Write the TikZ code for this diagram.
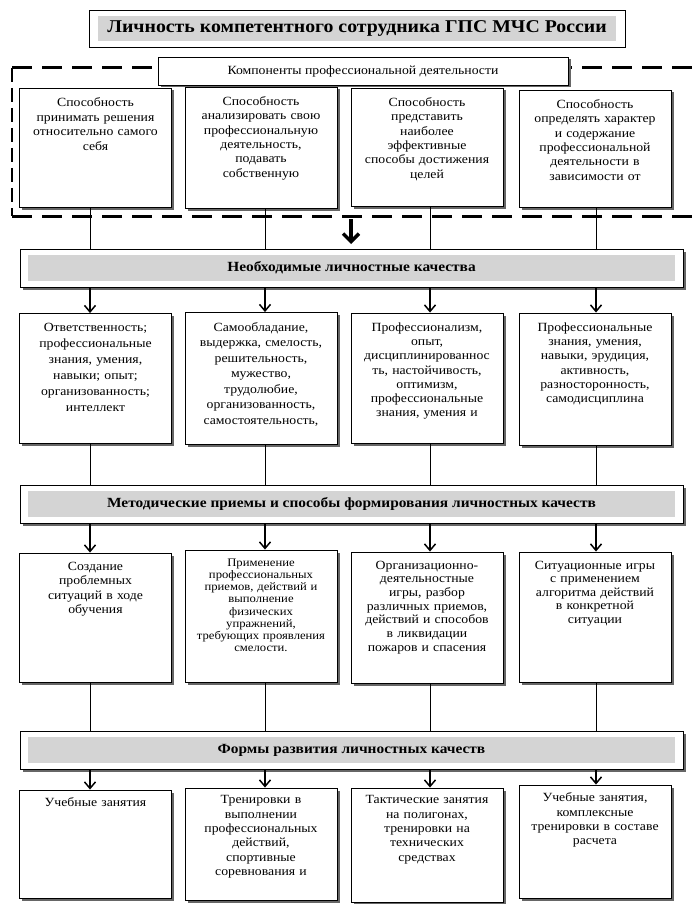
\documentclass[tikz,border=0pt]{standalone}
\usepackage{fontspec}
\setmainfont{Liberation Serif}[FakeStretch=1.1]
\usetikzlibrary{shapes,arrows.meta,positioning,calc,shadows}

\begin{document}
\begin{tikzpicture}[
  x=1pt, y=-1pt,
  cellbox/.style={draw, fill=white, line width=0.9pt, minimum width=152pt, inner sep=0pt,
    drop shadow={shadow xshift=2.5pt, shadow yshift=-2.5pt, fill=black!60, opacity=1}},
  celltext/.style={anchor=north, inner sep=0pt, text width=148pt, align=center, font=\fontsize{12.5}{14.5}\selectfont},
  bandbox/.style={draw, fill=white, line width=0.9pt, minimum width=663pt, minimum height=38pt,
    font=\bfseries\fontsize{14}{16}\selectfont,
    drop shadow={shadow xshift=2.5pt, shadow yshift=-2.5pt, fill=black!60, opacity=1},
    path picture={\fill[black!17] ([xshift=8pt,yshift=-6pt]path picture bounding box.north west) rectangle ([xshift=-8pt,yshift=6pt]path picture bounding box.south east);}},
  titlebox/.style={draw, fill=white, line width=0.9pt, minimum width=536pt, minimum height=37pt,
    font=\bfseries\fontsize{18}{20}\selectfont,
    path picture={\fill[black!17] ([xshift=9pt,yshift=-6pt]path picture bounding box.north west) rectangle ([xshift=-9pt,yshift=6pt]path picture bounding box.south east);}},
  conn/.style={line width=1pt},
  arrow/.style={line width=1.1pt, -{Straight Barb[length=6.5pt,width=11pt,line width=1.5pt]}},
  bigarrow/.style={line width=3.5pt, -{Straight Barb[length=8pt,width=16pt]}},
  dashline/.style={line width=3pt, dash pattern=on 20pt off 10pt},
  sidedash/.style={line width=1.3pt, dash pattern=on 14pt off 6pt}
]
  \useasboundingbox (0,0) rectangle (696,904);

  % Title
  \node[titlebox] (title) at (357,28.5) {Личность компетентного сотрудника ГПС МЧС России};

  % Components frame
  \coordinate (dtl) at (12,68);
  \coordinate (dtr) at (696,68);
  \coordinate (dbl) at (12,216);
  \coordinate (dbr) at (696,216);
  \draw[dashline] (dtl) -- (dtr);
  \draw[dashline] (dbl) -- (dbr);
  \draw[sidedash] (dtl) -- (dbl);
  \node[cellbox, minimum width=410pt, minimum height=28pt, font=\fontsize{12.5}{14}\selectfont] (comp) at (363,71) {Компоненты профессиональной деятельности};

  % column lines
  \coordinate (k1) at (90,0);
  \coordinate (k2) at (265,0);
  \coordinate (k3) at (430,0);
  \coordinate (k4) at (596,0);

  % Row 1: abilities
  \node[cellbox, minimum height=119pt] (s1) at (95.5,147.5) {};
  \node[cellbox, minimum height=121pt] (s2) at (261,147.5) {};
  \node[cellbox, minimum height=118pt] (s3) at (427,147) {};
  \node[cellbox, minimum height=117pt] (s4) at (595,148.5) {};
  \node[celltext, below=10pt of s1.north] {Способность\\принимать решения\\относительно самого\\себя};
  \node[celltext, below=10pt of s2.north, font=\fontsize{12.5}{14.3}\selectfont] {Способность\\анализировать свою\\профессиональную\\деятельность,\\подавать\\собственную};
  \node[celltext, below=10pt of s3.north, font=\fontsize{12.5}{14.3}\selectfont] {Способность\\представить\\наиболее\\эффективные\\способы достижения\\целей};
  \node[celltext, below=10pt of s4.north, font=\fontsize{12.5}{14.3}\selectfont] {Способность\\определять характер\\и содержание\\профессиональной\\деятельности в\\зависимости от};

  % Band 1
  \node[bandbox] (b1) at (351.5,268) {Необходимые личностные качества};
  \coordinate (ctop) at (351,219);
  \coordinate (cbot) at (351,244);
  \draw[bigarrow] (ctop) -- (cbot);
  \draw[conn] (s1.south -| k1) -- (b1.north -| k1);
  \draw[conn] (s2.south -| k2) -- (b1.north -| k2);
  \draw[conn] (s3.south -| k3) -- (b1.north -| k3);
  \draw[conn] (s4.south -| k4) -- (b1.north -| k4);

  % Row 2: qualities
  \node[cellbox, minimum height=130pt] (q1) at (95.5,378.5) {};
  \node[cellbox, minimum height=132pt] (q2) at (261,378.5) {};
  \node[cellbox, minimum height=130pt] (q3) at (427,378) {};
  \node[cellbox, minimum height=132pt] (q4) at (595,379) {};
  \node[celltext, below=10pt of q1.north, font=\fontsize{12.5}{16}\selectfont] {Ответственность;\\профессиональные\\знания, умения,\\навыки; опыт;\\организованность;\\интеллект};
  \node[celltext, below=10pt of q2.north, font=\fontsize{12.5}{15.5}\selectfont] {Самообладание,\\выдержка, смелость,\\решительность,\\мужество,\\трудолюбие,\\организованность,\\самостоятельность,};
  \node[celltext, below=10pt of q3.north, font=\fontsize{12.5}{14.2}\selectfont] {Профессионализм,\\опыт,\\дисциплинированнос\\ть, настойчивость,\\оптимизм,\\профессиональные\\знания, умения и};
  \node[celltext, below=10pt of q4.north, font=\fontsize{12.5}{14.2}\selectfont] {Профессиональные\\знания, умения,\\навыки, эрудиция,\\активность,\\разносторонность,\\самодисциплина};
  \draw[arrow] (b1.south -| k1) -- (q1.north -| k1);
  \draw[arrow] (b1.south -| k2) -- (q2.north -| k2);
  \draw[arrow] (b1.south -| k3) -- (q3.north -| k3);
  \draw[arrow] (b1.south -| k4) -- (q4.north -| k4);

  % Band 2
  \node[bandbox] (b2) at (351.5,504) {Методические приемы и способы формирования личностных качеств};
  \draw[conn] (q1.south -| k1) -- (b2.north -| k1);
  \draw[conn] (q2.south -| k2) -- (b2.north -| k2);
  \draw[conn] (q3.south -| k3) -- (b2.north -| k3);
  \draw[conn] (q4.south -| k4) -- (b2.north -| k4);

  % Row 3: methods
  \node[cellbox, minimum height=129pt] (m1) at (95.5,617.5) {};
  \node[cellbox, minimum height=132pt] (m2) at (261,616) {};
  \node[cellbox, minimum height=131pt] (m3) at (427,617.5) {};
  \node[cellbox, minimum height=130pt] (m4) at (595,617) {};
  \node[celltext, below=9pt of m1.north, font=\fontsize{12.5}{14.5}\selectfont] {Создание\\проблемных\\ситуаций в ходе\\обучения};
  \node[celltext, below=9pt of m2.north, font=\fontsize{11.5}{12.2}\selectfont] {Применение\\профессиональных\\приемов, действий и\\выполнение\\физических\\упражнений,\\требующих проявления\\смелости.};
  \node[celltext, below=9pt of m3.north, font=\fontsize{12.5}{13.7}\selectfont] {Организационно-\\деятельностные\\игры, разбор\\различных приемов,\\действий и способов\\в ликвидации\\пожаров и спасения};
  \node[celltext, below=9pt of m4.north, font=\fontsize{12.5}{13.5}\selectfont] {Ситуационные игры\\с применением\\алгоритма действий\\в конкретной\\ситуации};
  \draw[arrow] (b2.south -| k1) -- (m1.north -| k1);
  \draw[arrow] (b2.south -| k2) -- (m2.north -| k2);
  \draw[arrow] (b2.south -| k3) -- (m3.north -| k3);
  \draw[arrow] (b2.south -| k4) -- (m4.north -| k4);

  % Band 3
  \node[bandbox] (b3) at (351.5,750) {Формы развития личностных качеств};
  \draw[conn] (m1.south -| k1) -- (b3.north -| k1);
  \draw[conn] (m2.south -| k2) -- (b3.north -| k2);
  \draw[conn] (m3.south -| k3) -- (b3.north -| k3);
  \draw[conn] (m4.south -| k4) -- (b3.north -| k4);

  % Row 4: forms
  \node[cellbox, minimum height=108pt] (f1) at (95.5,844) {};
  \node[cellbox, minimum height=112pt] (f2) at (261,844) {};
  \node[cellbox, minimum height=114pt] (f3) at (427,845) {};
  \node[cellbox, minimum height=113pt] (f4) at (595,841.5) {};
  \node[celltext, below=8pt of f1.north] {Учебные занятия};
  \node[celltext, below=8pt of f2.north, font=\fontsize{12.5}{14.3}\selectfont] {Тренировки в\\выполнении\\профессиональных\\действий,\\спортивные\\соревнования и};
  \node[celltext, below=8pt of f3.north, font=\fontsize{12.5}{14.3}\selectfont] {Тактические занятия\\на полигонах,\\тренировки на\\технических\\средствах};
  \node[celltext, below=8pt of f4.north, font=\fontsize{12.5}{14.3}\selectfont] {Учебные занятия,\\комплексные\\тренировки в составе\\расчета};
  \draw[arrow] (b3.south -| k1) -- (f1.north -| k1);
  \draw[arrow] (b3.south -| k2) -- (f2.north -| k2);
  \draw[arrow] (b3.south -| k3) -- (f3.north -| k3);
  \draw[arrow] (b3.south -| k4) -- (f4.north -| k4);
\end{tikzpicture}
\end{document}
